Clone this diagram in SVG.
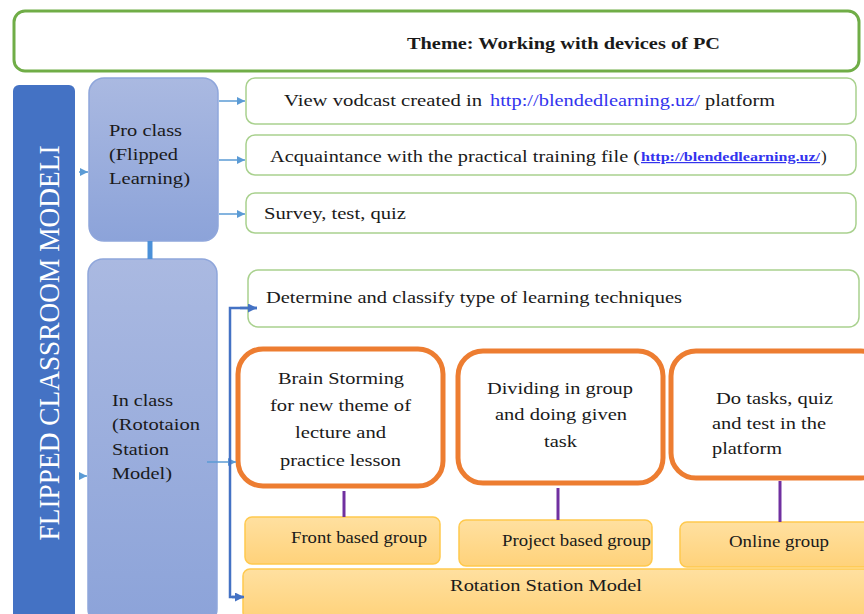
<svg xmlns="http://www.w3.org/2000/svg" width="864" height="614" viewBox="0 0 864 614">
<defs>
<linearGradient id="gBlue" x1="0" y1="0" x2="0" y2="1"><stop offset="0" stop-color="#AAB9E1"/><stop offset="1" stop-color="#8CA3D9"/></linearGradient>
<linearGradient id="gYel" x1="0" y1="0" x2="0" y2="1"><stop offset="0" stop-color="#FFE0A0"/><stop offset="1" stop-color="#FFD27A"/></linearGradient>
<marker id="ah" viewBox="0 0 10 10" refX="10" refY="5" markerWidth="9" markerHeight="8" markerUnits="userSpaceOnUse" orient="auto"><path d="M0,0 L10,5 L0,10 z" fill="#5B9BD5"/></marker>
<marker id="ah2" viewBox="0 0 10 10" refX="10" refY="5" markerWidth="10" markerHeight="9" markerUnits="userSpaceOnUse" orient="auto"><path d="M0,0 L10,5 L0,10 z" fill="#4472C4"/></marker>
</defs>
<style>
text{font-family:"Liberation Serif","Times New Roman",serif;fill:#1a1a1a;}
.t{font-size:17px;}
.g{fill:#fff;stroke:#A9D18E;stroke-width:1.5;}
.o{fill:#fff;stroke:#ED7D31;stroke-width:5;}
.y{fill:url(#gYel);stroke:#FFC94D;stroke-width:1.5;}
.b{fill:url(#gBlue);stroke:#8FA6DB;stroke-width:1.5;}
.la{stroke:#5B9BD5;stroke-width:1.5;fill:none;marker-end:url(#ah);}
.pl{stroke:#7030A0;stroke-width:3;}
.u{fill:#3333EE;}
</style>
<rect width="864" height="614" fill="#fff"/>
<g id="title"><rect x="14" y="11" width="845" height="60" rx="11" fill="#fff" stroke="#70AD47" stroke-width="3"/><text x="407" y="49" font-size="17" font-weight="bold" textLength="313" lengthAdjust="spacingAndGlyphs">Theme: Working with devices of PC</text></g>
<g id="leftbar"><rect x="13" y="85" width="62" height="535" rx="6" fill="#4472C4"/><text transform="translate(59,343) rotate(-90)" text-anchor="middle" font-size="30" style="fill:#fff" textLength="395" lengthAdjust="spacingAndGlyphs">FLIPPED CLASSROOM MODELI</text></g>
<g id="proclass"><rect class="b" x="89" y="78" width="129" height="163" rx="15"/><text class="t" x="109" y="136" textLength="73" lengthAdjust="spacingAndGlyphs">Pro class</text><text class="t" x="109" y="160" textLength="69" lengthAdjust="spacingAndGlyphs">(Flipped</text><text class="t" x="109" y="184" textLength="81" lengthAdjust="spacingAndGlyphs">Learning)</text></g>
<g id="inclass"><rect class="b" x="88" y="259" width="129" height="365" rx="15"/><text class="t" x="112" y="406" textLength="61" lengthAdjust="spacingAndGlyphs">In class</text><text class="t" x="112" y="430" textLength="88" lengthAdjust="spacingAndGlyphs">(Rototaion</text><text class="t" x="112" y="455" textLength="57" lengthAdjust="spacingAndGlyphs">Station</text><text class="t" x="112" y="479" textLength="60" lengthAdjust="spacingAndGlyphs">Model)</text></g>
<g id="view"><rect class="g" x="246" y="78" width="610" height="46" rx="9"/><text class="t" x="284" y="106" textLength="198" lengthAdjust="spacingAndGlyphs">View vodcast created in</text><text class="t u" x="490" y="106" textLength="210" lengthAdjust="spacingAndGlyphs">http://blendedlearning.uz/</text><text class="t" x="705" y="106" textLength="70" lengthAdjust="spacingAndGlyphs">platform</text></g>
<g id="acq"><rect class="g" x="246" y="135" width="610" height="40" rx="9"/><text class="t" x="270" y="162" textLength="370" lengthAdjust="spacingAndGlyphs">Acquaintance with the practical training file (</text><text class="u" x="641" y="161" font-size="12" font-weight="bold" text-decoration="underline" textLength="179" lengthAdjust="spacingAndGlyphs">http://blendedlearning.uz/</text><text class="t" x="821" y="162">)</text></g>
<g id="survey"><rect class="g" x="246" y="193" width="610" height="40" rx="9"/><text class="t" x="264" y="219" textLength="142" lengthAdjust="spacingAndGlyphs">Survey, test, quiz</text></g>
<g id="determine"><rect class="g" x="248" y="270" width="611" height="57" rx="10"/><text class="t" x="266" y="303" textLength="416" lengthAdjust="spacingAndGlyphs">Determine and classify type of learning techniques</text></g>
<g id="brain"><rect class="o" x="238" y="349" width="205" height="137" rx="25"/><text class="t" x="278" y="384" textLength="126" lengthAdjust="spacingAndGlyphs">Brain Storming</text><text class="t" x="270" y="411" textLength="141" lengthAdjust="spacingAndGlyphs">for new theme of</text><text class="t" x="295" y="438" textLength="91" lengthAdjust="spacingAndGlyphs">lecture and</text><text class="t" x="280" y="466" textLength="121" lengthAdjust="spacingAndGlyphs">practice lesson</text></g>
<g id="dividing"><rect class="o" x="458" y="351" width="205" height="132" rx="25"/><text class="t" x="487" y="394" textLength="146" lengthAdjust="spacingAndGlyphs">Dividing in group</text><text class="t" x="495" y="420" textLength="132" lengthAdjust="spacingAndGlyphs">and doing given</text><text class="t" x="544" y="447" textLength="33" lengthAdjust="spacingAndGlyphs">task</text></g>
<g id="dotasks"><rect class="o" x="671" y="351" width="215" height="127" rx="25"/><text class="t" x="716" y="404" textLength="117" lengthAdjust="spacingAndGlyphs">Do tasks, quiz</text><text class="t" x="712" y="429" textLength="114" lengthAdjust="spacingAndGlyphs">and test in the</text><text class="t" x="712" y="454" textLength="70" lengthAdjust="spacingAndGlyphs">platform</text></g>
<g id="front"><rect class="y" x="245" y="517" width="195" height="47" rx="7"/><text class="t" x="291" y="543" textLength="136" lengthAdjust="spacingAndGlyphs">Front based group</text></g>
<g id="project"><rect class="y" x="459" y="520" width="193" height="46" rx="7"/><text class="t" x="502" y="546" textLength="149" lengthAdjust="spacingAndGlyphs">Project based group</text></g>
<g id="online"><rect class="y" x="680" y="522" width="190" height="45" rx="7"/><text class="t" x="729" y="547" textLength="100" lengthAdjust="spacingAndGlyphs">Online group</text></g>
<g id="rotation"><rect class="y" x="243" y="569" width="630" height="50" rx="7"/><text class="t" x="450" y="591" textLength="192" lengthAdjust="spacingAndGlyphs">Rotation Station Model</text></g>
<g id="connectors">
<line x1="150" y1="241" x2="150" y2="259" stroke="#4A90D9" stroke-width="5"/>
<line class="la" x1="79" y1="172" x2="88" y2="172"/>
<line class="la" x1="79" y1="476" x2="87" y2="476"/>
<line class="la" x1="219" y1="101" x2="245" y2="101"/>
<line class="la" x1="219" y1="160" x2="245" y2="160"/>
<line class="la" x1="219" y1="214" x2="245" y2="214"/>
<line class="la" x1="207" y1="462" x2="236" y2="462"/>
<path d="M257,308 H230 V597 H243" fill="none" stroke="#4472C4" stroke-width="2.5"/>
<line x1="240" y1="308" x2="257" y2="308" stroke="#4472C4" stroke-width="2.5" marker-end="url(#ah2)"/>
<line x1="232" y1="597" x2="244" y2="597" stroke="#4472C4" stroke-width="2.5" marker-end="url(#ah2)"/>
<line class="pl" x1="344" y1="491" x2="344" y2="517"/>
<line class="pl" x1="558" y1="488" x2="558" y2="520"/>
<line class="pl" x1="780" y1="481" x2="780" y2="522"/>
</g>
</svg>
